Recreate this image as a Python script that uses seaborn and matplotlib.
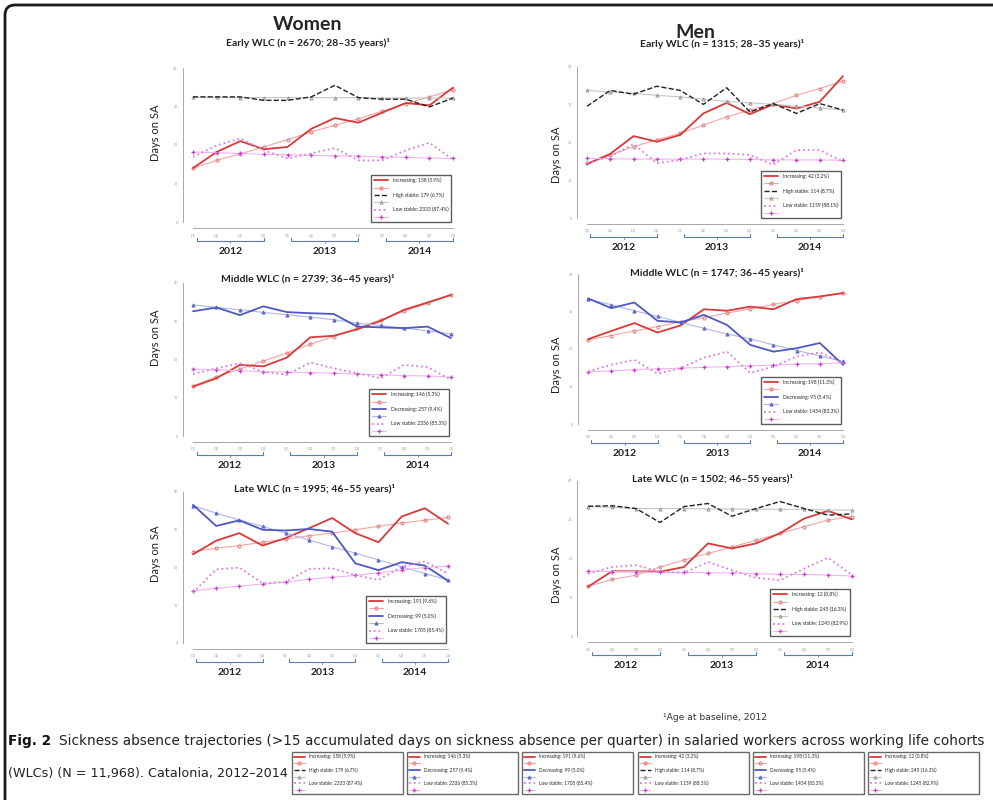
import pandas as pd
import seaborn as sns
import matplotlib.pyplot as plt
from matplotlib.patches import FancyBboxPatch
from matplotlib.transforms import IdentityTransform

quarters = ["Q1", "Q2", "Q3", "Q4"] * 3
q_index = list(range(1, 13))
years = ["2012", "2013", "2014"]
y_ticks = [0, 10, 20, 30, 40]

# Women, early WLC
w_early_inc = [14.0, 18.2, 21.0, 18.9, 19.5, 24.2, 27.0, 25.8, 28.4, 30.9, 30.3, 34.9]
w_early_inc_fit = [14.0, 16.0, 17.7, 19.5, 21.4, 23.4, 25.1, 26.8, 28.8, 30.7, 32.5, 34.4]
w_early_high = [32.5, 32.5, 32.5, 31.6, 31.6, 32.5, 35.5, 32.3, 31.9, 31.9, 29.9, 32.2]
w_early_high_fit = [32.4, 32.4, 32.3, 32.3, 32.3, 32.3, 32.3, 32.3, 32.2, 32.2, 32.2, 32.2]
w_early_low = [16.9, 19.9, 21.7, 18.6, 16.5, 17.8, 19.2, 16.0, 16.0, 18.6, 20.6, 16.2]
w_early_low_fit = [18.2, 18.0, 17.8, 17.6, 17.5, 17.3, 17.2, 17.1, 16.9, 16.8, 16.6, 16.5]

# Women, middle WLC
w_mid_inc = [12.9, 15.1, 18.6, 18.2, 20.5, 25.8, 26.2, 27.9, 30.1, 33.0, 34.9, 36.9]
w_mid_inc_fit = [13.1, 15.5, 17.5, 19.6, 21.7, 24.0, 26.0, 28.2, 30.4, 32.6, 34.7, 36.8]
w_mid_dec = [32.6, 33.6, 31.6, 33.9, 32.4, 32.1, 31.9, 28.6, 28.4, 28.2, 28.6, 25.6]
w_mid_dec_fit = [34.3, 33.6, 33.0, 32.3, 31.7, 31.1, 30.4, 29.5, 28.9, 28.2, 27.5, 26.7]
w_mid_low = [16.2, 17.7, 19.0, 16.8, 16.0, 19.2, 17.7, 16.4, 15.1, 18.6, 18.0, 14.7]
w_mid_low_fit = [17.5, 17.3, 17.1, 16.8, 16.7, 16.6, 16.4, 16.2, 16.0, 15.8, 15.7, 15.4]

# Women, late WLC
w_late_inc = [23.5, 27.1, 29.1, 25.8, 27.8, 30.4, 33.1, 29.1, 26.7, 33.5, 35.7, 31.6]
w_late_inc_fit = [24.2, 25.1, 25.8, 26.7, 27.5, 28.4, 29.1, 30.0, 30.9, 31.8, 32.5, 33.3]
w_late_dec = [36.6, 31.0, 32.5, 30.0, 29.8, 30.2, 29.5, 21.1, 19.3, 21.4, 20.5, 16.5]
w_late_dec_fit = [36.4, 34.4, 32.6, 30.9, 29.1, 27.3, 25.5, 23.8, 22.0, 20.2, 18.4, 16.7]
w_late_low = [13.3, 19.5, 20.0, 15.8, 16.2, 19.6, 19.8, 18.0, 16.7, 20.2, 21.6, 18.4]
w_late_low_fit = [13.8, 14.5, 15.1, 15.6, 16.1, 16.9, 17.4, 17.9, 18.6, 19.3, 20.0, 20.4]

# Men, early WLC
m_early_inc = [14.3, 17.0, 21.7, 20.2, 22.0, 27.7, 30.5, 27.5, 30.1, 29.0, 30.8, 37.6]
m_early_inc_fit = [14.5, 16.7, 18.9, 20.7, 22.4, 24.6, 26.8, 28.6, 30.3, 32.5, 34.3, 36.3]
m_early_high = [29.6, 33.8, 32.8, 34.9, 33.8, 30.1, 34.5, 28.1, 30.3, 27.7, 30.3, 28.6]
m_early_high_fit = [33.8, 33.4, 33.0, 32.5, 32.1, 31.5, 30.9, 30.5, 30.1, 29.6, 29.2, 28.6]
m_early_low = [14.5, 16.3, 19.6, 14.5, 15.4, 17.1, 17.1, 16.7, 14.1, 18.0, 18.0, 14.9]
m_early_low_fit = [15.8, 15.7, 15.6, 15.6, 15.6, 15.6, 15.6, 15.5, 15.4, 15.4, 15.4, 15.3]

# Men, middle WLC
m_mid_inc = [22.6, 24.8, 26.9, 24.4, 26.3, 30.6, 30.2, 31.3, 30.6, 33.3, 34.0, 34.9]
m_mid_inc_fit = [22.4, 23.6, 24.8, 26.0, 27.2, 28.4, 29.6, 30.7, 31.9, 32.9, 34.0, 35.0]
m_mid_dec = [33.5, 30.9, 32.4, 27.5, 27.1, 29.1, 26.4, 21.1, 19.3, 20.2, 21.6, 15.8]
m_mid_dec_fit = [33.3, 31.8, 30.2, 28.7, 27.1, 25.5, 24.0, 22.7, 21.1, 19.6, 18.2, 16.7]
m_mid_low = [14.0, 15.8, 17.1, 13.4, 14.9, 17.7, 19.3, 13.6, 15.3, 18.0, 19.1, 16.2]
m_mid_low_fit = [13.9, 14.2, 14.5, 14.7, 14.9, 15.1, 15.3, 15.5, 15.7, 16.0, 16.1, 16.3]

# Men, late WLC
m_late_inc = [12.7, 16.7, 16.7, 16.6, 17.8, 23.9, 22.6, 23.9, 26.5, 30.3, 32.3, 30.1]
m_late_inc_fit = [12.8, 14.6, 15.7, 17.8, 19.6, 21.3, 23.0, 24.7, 26.5, 28.2, 29.9, 30.8]
m_late_high = [33.5, 33.6, 32.9, 29.3, 33.4, 34.2, 30.9, 32.9, 34.7, 32.9, 31.2, 31.5]
m_late_high_fit = [33.4, 33.2, 32.9, 32.9, 32.9, 32.8, 32.8, 32.7, 32.7, 32.7, 32.5, 32.5]
m_late_low = [16.1, 17.8, 18.3, 16.6, 16.3, 19.1, 17.0, 15.0, 14.4, 17.4, 20.2, 15.7]
m_late_low_fit = [16.8, 16.6, 16.6, 16.4, 16.4, 16.3, 16.3, 16.1, 15.9, 15.9, 15.7, 15.5]

sns.set_style("white")
plt.rcParams['font.family'] = ['Lato', 'DejaVu Sans']

W, H = 993, 800
fig = plt.figure(figsize=(W / 100, H / 100), dpi=100)

# line styles per trajectory kind: (observed, fitted)
styles = {
    "inc": (dict(color="#d83a3a", linestyle="-", linewidth=1.3),
            dict(color="#f2a6a6", linestyle="-", linewidth=0.8, marker="o", markersize=2.2,
                 markerfacecolor="none", markeredgecolor="#e57a7a")),
    "high": (dict(color="#222222", linestyle="--", linewidth=1.0),
             dict(color="#c4c4c4", linestyle="-", linewidth=0.8, marker="^", markersize=2.2,
                  markerfacecolor="none", markeredgecolor="#999999")),
    "dec": (dict(color="#4d58c2", linestyle="-", linewidth=1.3),
            dict(color="#b0b5ea", linestyle="-", linewidth=0.8, marker="^", markersize=2.2,
                 markerfacecolor="#7a82d8", markeredgecolor="#5b63c8")),
    "low": (dict(color="#e07ae0", linestyle=":", linewidth=1.3),
            dict(color="#f0b4f0", linestyle="-", linewidth=0.8, marker="+", markersize=3.5,
                 markeredgecolor="#c83cc8", markeredgewidth=0.9)),
}

# (pixel x of Q1 2012, pixel x of Q4 2014, pixel y of 0, pixel y of 40)
panels = [
    dict(px=(193, 453, 222, 68), title="Early WLC (n = 2670; 28–35 years)¹", tpos=(308, 43),
         series=[("inc", w_early_inc, w_early_inc_fit, "Increasing: 158 (5.9%)"),
                 ("high", w_early_high, w_early_high_fit, "High stable: 179 (6.7%)"),
                 ("low", w_early_low, w_early_low_fit, "Low stable: 2333 (87.4%)")],
         ylab=(161, 133)),
    dict(px=(193, 451, 436, 283), title="Middle WLC (n = 2739; 36–45 years)¹", tpos=(308, 279),
         series=[("inc", w_mid_inc, w_mid_inc_fit, "Increasing: 146 (5.3%)"),
                 ("dec", w_mid_dec, w_mid_dec_fit, "Decreasing: 257 (9.4%)"),
                 ("low", w_mid_low, w_mid_low_fit, "Low stable: 2336 (85.3%)")],
         ylab=(161, 338)),
    dict(px=(193, 448, 643, 492), title="Late WLC (n = 1995; 46–55 years)¹", tpos=(315, 489),
         series=[("inc", w_late_inc, w_late_inc_fit, "Increasing: 191 (9.6%)"),
                 ("dec", w_late_dec, w_late_dec_fit, "Decreasing: 99 (5.0%)"),
                 ("low", w_late_low, w_late_low_fit, "Low stable: 1705 (85.4%)")],
         ylab=(161, 554)),
    dict(px=(587, 843, 218, 67), title="Early WLC (n = 1315; 28–35 years)¹", tpos=(722, 44),
         series=[("inc", m_early_inc, m_early_inc_fit, "Increasing: 42 (3.2%)"),
                 ("high", m_early_high, m_early_high_fit, "High stable: 114 (8.7%)"),
                 ("low", m_early_low, m_early_low_fit, "Low stable: 1159 (88.1%)")],
         ylab=(562, 155)),
    dict(px=(588, 843, 424, 274), title="Middle WLC (n = 1747; 36–45 years)¹", tpos=(717, 273),
         series=[("inc", m_mid_inc, m_mid_inc_fit, "Increasing: 198 (11.3%)"),
                 ("dec", m_mid_dec, m_mid_dec_fit, "Decreasing: 95 (5.4%)"),
                 ("low", m_mid_low, m_mid_low_fit, "Low stable: 1454 (83.3%)")],
         ylab=(562, 365)),
    dict(px=(588, 852, 636, 481), title="Late WLC (n = 1502; 46–55 years)¹", tpos=(712, 479),
         series=[("inc", m_late_inc, m_late_inc_fit, "Increasing: 12 (0.8%)"),
                 ("high", m_late_high, m_late_high_fit, "High stable: 245 (16.3%)"),
                 ("low", m_late_low, m_late_low_fit, "Low stable: 1245 (82.9%)")],
         ylab=(562, 575)),
]

legend_kw = dict(fontsize=3.6, handlelength=2.8, handletextpad=1.0, labelspacing=0.42,
                 borderpad=0.55, frameon=True, fancybox=False, edgecolor="#333333")
box_kw = dict(fontsize=3.4, handlelength=2.4, handletextpad=0.9, labelspacing=0.32,
              borderpad=0.35, borderaxespad=0, frameon=True, fancybox=False,
              edgecolor="#444444", mode="expand")

all_handles = []
for p in panels:
    x1, x12, y0, y40 = p["px"]
    sx = (x12 - x1) / 11
    sy = (y0 - y40) / 40
    left, right = x1 - 0.44 * sx, x12 + 0.44 * sx
    bottom, top = y0 + 1.6 * sy, y40 - 1.6 * sy
    ax = fig.add_axes([left / W, 1 - bottom / H, (right - left) / W, (bottom - top) / H])
    h_px = bottom - top

    handles, labels = [], []
    for kind, obs, fit, lab in p["series"]:
        st_obs, st_fit = styles[kind]
        sns.lineplot(x=q_index, y=fit, ax=ax, **st_fit)
        hf = ax.get_lines()[-1]
        sns.lineplot(x=q_index, y=obs, ax=ax, **st_obs)
        ho = ax.get_lines()[-1]
        handles += [ho, hf]
        labels += [lab, ""]
    all_handles.append((handles, labels))

    ax.legend(handles, labels, loc="lower right", bbox_to_anchor=(0.965, 0.02), **legend_kw)

    ax.set_xticks(q_index)
    ax.set_xticklabels(quarters)
    ax.set_yticks(y_ticks)
    for s in ["top", "right"]:
        ax.spines[s].set_visible(False)
    for s in ["left", "bottom"]:
        ax.spines[s].set_color("#999999")
        ax.spines[s].set_linewidth(0.6)
    ax.spines["bottom"].set_bounds(1, 12)
    ax.spines["left"].set_bounds(0, 40)
    ax.tick_params(axis="both", labelsize=2.6, colors="#999999", length=2, width=0.5, pad=1.5)
    ax.set_xlabel("")
    ax.set_ylabel("Days on SA", fontsize=8, color="#222222")
    ax.yaxis.set_label_coords(-(left - p["ylab"][0]) / (right - left), (bottom - p["ylab"][1]) / h_px)

    # year brackets under the quarter ticks
    tr = ax.get_xaxis_transform()
    yb = -13 / h_px
    tk = 3 / h_px
    for i, yr in enumerate(years):
        a, b = 4 * i + 1.15, 4 * i + 4
        ax.plot([a, a, b, b], [yb + tk, yb, yb, yb + tk], transform=tr, clip_on=False,
                color="#5a7cab", linewidth=0.8)
        ax.plot([(a + b) / 2] * 2, [yb, yb - tk * 0.6], transform=tr, clip_on=False,
                color="#5a7cab", linewidth=0.6)
        ax.text((a + b) / 2, -23 / h_px, yr, transform=tr, ha="center", va="center",
                fontsize=7.5, fontweight="bold", color="#222222")
    ax.set_xlim(0.56, 12.44)
    ax.set_ylim(-1.6, 41.6)

    fig.text(p["tpos"][0] / W, 1 - p["tpos"][1] / H, p["title"], ha="center", va="center",
             fontsize=7.5, fontweight="bold", color="#222222")

fig.text(308 / W, 1 - 25 / H, "Women", ha="center", va="center", fontsize=14, fontweight="bold")
fig.text(695 / W, 1 - 32 / H, "Men", ha="center", va="center", fontsize=14, fontweight="bold")
fig.text(663 / W, 1 - 717 / H, "¹Age at baseline, 2012", ha="left", va="center", fontsize=6.6,
         family=['DejaVu Sans'], color="#333333")

# caption
cap_font = ['DejaVu Sans']
fig.text(8 / W, 1 - 741 / H, "Fig. 2", ha="left", va="center", fontsize=9.8, fontweight="bold",
         family=cap_font, color="#111111")
fig.text(59 / W, 1 - 741 / H,
         "Sickness absence trajectories (>15 accumulated days on sickness absence per quarter) "
         "in salaried workers across working life cohorts",
         ha="left", va="center", fontsize=9.8, family=cap_font, color="#222222")
fig.text(8 / W, 1 - 774 / H, "(WLCs) (N = 11,968). Catalonia, 2012–2014", ha="left", va="center",
         fontsize=9.2, family=cap_font, color="#222222")

# small legend boxes along the caption
box_left = [292, 407, 522, 638, 753, 868]
for bx, (handles, labels) in zip(box_left, all_handles):
    fig.legend(handles, labels, loc="upper left",
               bbox_to_anchor=(bx / W, 1 - 797 / H, 111 / W, 45 / H), **box_kw)

# rounded frame (top and left edges)
frame = FancyBboxPatch((5, -300), 1200, 1095, boxstyle="round,pad=0,rounding_size=10",
                       transform=IdentityTransform(), facecolor="none", edgecolor="#1a1a1a",
                       linewidth=2)
fig.add_artist(frame)

fig.savefig("out.png", dpi=100)
